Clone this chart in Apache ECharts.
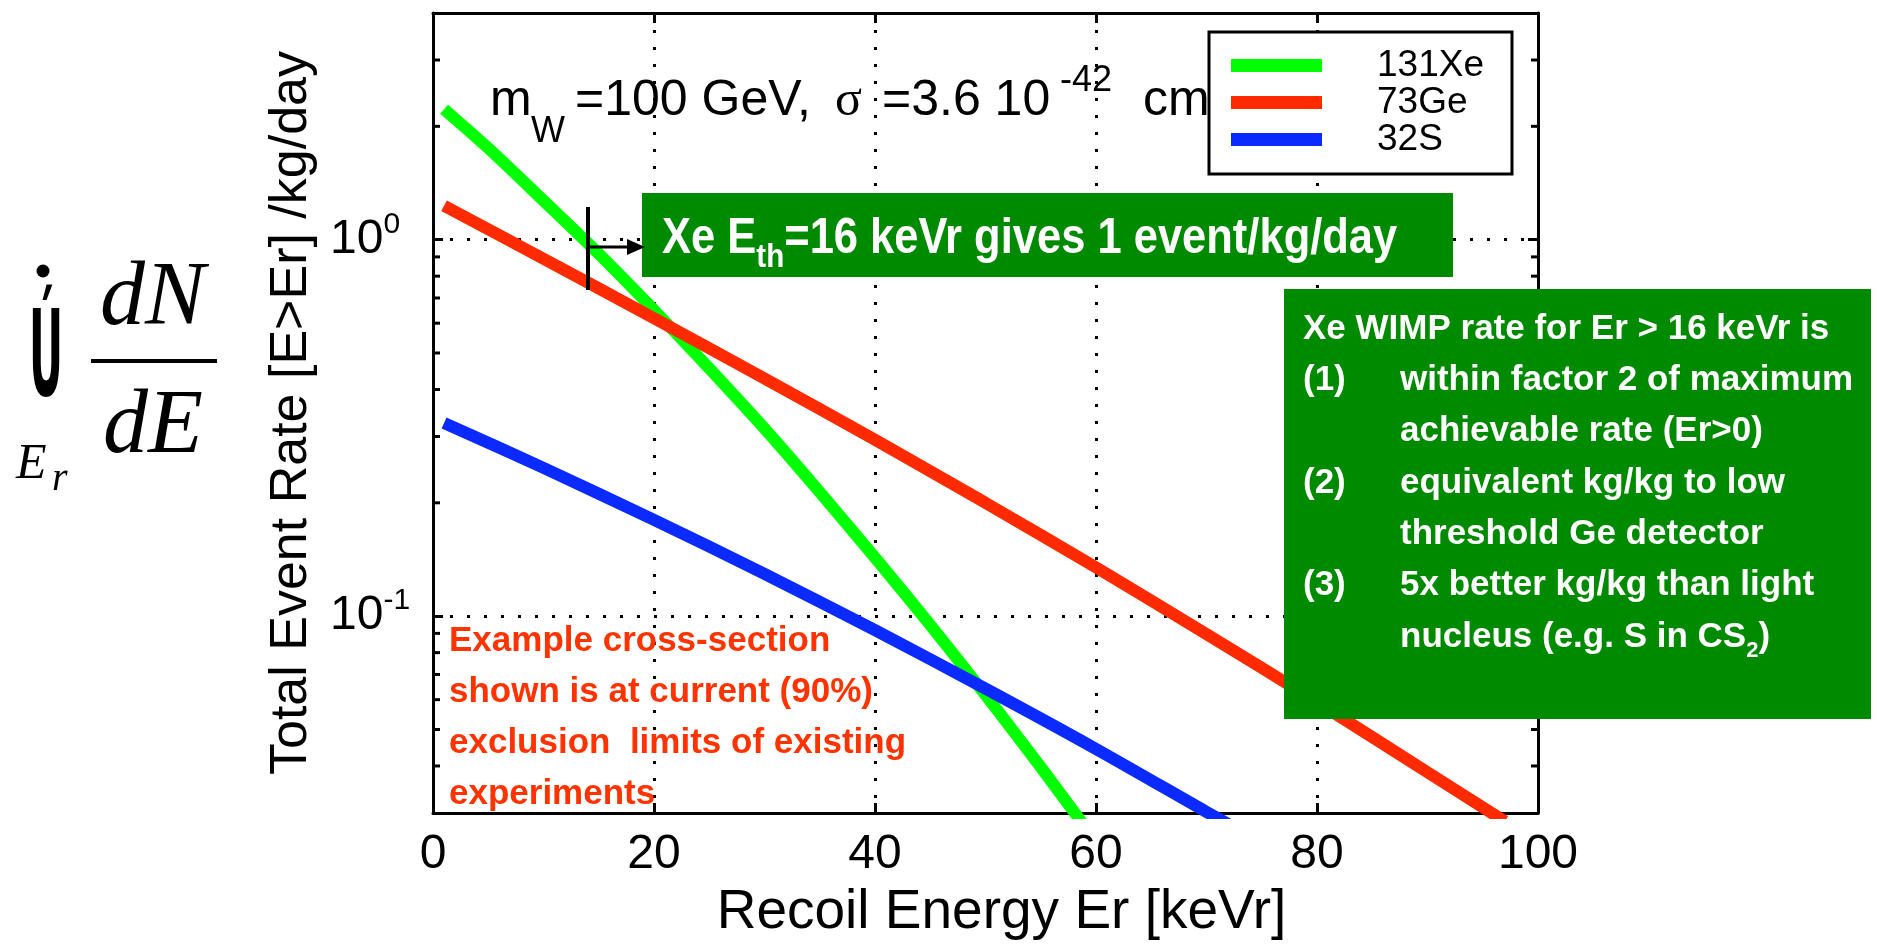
<!DOCTYPE html>
<html>
<head>
<meta charset="utf-8">
<script src="https://cdn.jsdelivr.net/npm/echarts@6/dist/echarts.min.js"></script>
<style>
html, body { margin: 0; padding: 0; background: #fff; }
#main { width: 1877px; height: 945px; }
</style>
</head>
<body>
<div id="main"></div>
<script>
var SANS = '"Liberation Sans", Arial, Helvetica, sans-serif';
var SERIF = '"Liberation Serif", "Times New Roman", serif';

// recoil energy (keVr) vs integrated rate above Er (/kg/day)
var energyXe = [1, 5, 10, 15, 20, 25, 30, 35, 40, 45, 50, 55, 60];
var rateXe = [2.22, 1.75, 1.27, 0.917, 0.65, 0.455, 0.315, 0.2135, 0.143, 0.0947, 0.0618, 0.0397, 0.0252];
var energyGe = [1, 10, 20, 30, 40, 50, 60, 70, 80, 90, 97];
var rateGe = [1.23, 0.89, 0.6185, 0.428, 0.294, 0.2, 0.1347, 0.0896, 0.0591, 0.0385, 0.0285];
var energyS = [1, 10, 20, 30, 40, 50, 60, 70, 72];
var rateS = [0.326, 0.2476, 0.1802, 0.1295, 0.0918, 0.0642, 0.0444, 0.0302, 0.028];

var seriesNames = ['131Xe', '73Ge', '32S'];
var seriesColors = ['#00ff00', '#ff2a00', '#0a2aff'];
var minorTicks = [0.04, 0.05, 0.06, 0.07, 0.08, 0.09, 0.2, 0.3, 0.4, 0.5, 0.6, 0.7, 0.8, 0.9, 2, 3];

var noteLines = ['Example cross-section', 'shown is at current (90%)', 'exclusion  limits of existing', 'experiments'];
var boxNums = ['', '(1)', '', '(2)', '', '(3)', ''];
var boxLines = [
  'within factor 2 of maximum',
  'achievable rate (Er>0)',
  'equivalent kg/kg to low',
  'threshold Ge detector',
  '5x better kg/kg than light',
  '{t|nucleus (e.g. S in CS}{s|2}{t|)}'
];

var chart = echarts.init(document.getElementById('main'));

function pairs(xs, ys) {
  return xs.map(function (x, i) { return [x, ys[i]]; });
}

// text placed by its left edge and baseline
function txt(text, x, baseline, size, o) {
  o = o || {};
  return {
    type: 'text', x: x, y: baseline, z: o.z || 10,
    scaleX: o.scaleX || 1, scaleY: o.scaleY || 1,
    style: {
      text: text, x: 0, y: -0.31 * size,
      fill: o.color || '#000',
      fontSize: size,
      fontFamily: o.family || SANS,
      fontWeight: o.weight || 'normal',
      fontStyle: o.italic ? 'italic' : 'normal',
      align: o.align || 'left', verticalAlign: 'middle',
      rich: o.rich
    }
  };
}

var graphics = [];

// left-hand formula
graphics.push(txt('Ú', 46, 401, 42, { weight: 'bold', align: 'center', scaleY: 2.85, family: '"DejaVu Sans", sans-serif' }));
graphics.push({ type: 'circle', shape: { cx: 43, cy: 271, r: 6.5 }, style: { fill: '#000' } });
graphics.push(txt('dN', 100, 328, 90, { family: SERIF, italic: true }));
graphics.push({ type: 'rect', shape: { x: 91, y: 359, width: 126, height: 4 }, style: { fill: '#000' } });
graphics.push(txt('dE', 103, 456, 90, { family: SERIF, italic: true }));
graphics.push(txt('E', 16, 480, 50, { family: SERIF, italic: true }));
graphics.push(txt('r', 52, 492, 40, { family: SERIF, italic: true }));

// parameter line (partly under the legend)
graphics.push(txt('m', 490, 117, 50, { z: 3 }));
graphics.push(txt('W', 531, 143, 36, { z: 3 }));
graphics.push(txt('=100 GeV,', 575, 117, 50, { z: 3 }));
graphics.push(txt('σ', 835, 117, 50, { z: 3, family: SERIF }));
graphics.push(txt('=3.6 10', 882, 117, 50, { z: 3 }));
graphics.push(txt('-42', 1060, 92, 36, { z: 3 }));
graphics.push(txt('cm', 1143, 117, 50, { z: 3 }));

// threshold marker and arrow
graphics.push({ type: 'line', z: 10, shape: { x1: 588, y1: 207, x2: 588, y2: 290 }, style: { stroke: '#000', lineWidth: 4 } });
graphics.push({ type: 'line', z: 10, shape: { x1: 588, y1: 247, x2: 630, y2: 247 }, style: { stroke: '#000', lineWidth: 3 } });
graphics.push({ type: 'polygon', z: 10, shape: { points: [[627, 239], [645, 247], [627, 255]] }, style: { fill: '#000' } });

// green banner
graphics.push({ type: 'rect', z: 9, shape: { x: 642, y: 193, width: 811, height: 84 }, style: { fill: '#008a00' } });
graphics.push(txt('{a|Xe E}{s|th}{a|=16 keVr gives 1 event/kg/day}', 662, 255, 50, {
  weight: 'bold', color: '#fff', scaleX: 0.87,
  rich: {
    a: { fontSize: 50, lineHeight: 70, fontWeight: 'bold', fontFamily: SANS, color: '#fff' },
    s: { fontSize: 34, lineHeight: 34, fontWeight: 'bold', fontFamily: SANS, color: '#fff', verticalAlign: 'bottom' }
  }
}));

// green text box
graphics.push({ type: 'rect', z: 9, shape: { x: 1284, y: 289, width: 587, height: 430 }, style: { fill: '#008a00' } });
graphics.push(txt('Xe WIMP rate for Er > 16 keVr is', 1303, 340, 35, { weight: 'bold', color: '#fff' }));
boxLines.forEach(function (line, i) {
  var bl = 391.3 + i * 51.3;
  if (boxNums[i + 1]) {
    graphics.push(txt(boxNums[i + 1], 1303, bl, 35, { weight: 'bold', color: '#fff' }));
  }
  graphics.push(txt(line, 1400, bl, 35, {
    weight: 'bold', color: '#fff',
    rich: {
      t: { fontSize: 35, lineHeight: 50, fontWeight: 'bold', fontFamily: SANS, color: '#fff' },
      s: { fontSize: 22, lineHeight: 22, fontWeight: 'bold', fontFamily: SANS, color: '#fff', verticalAlign: 'bottom' }
    }
  }));
});

// red note
noteLines.forEach(function (line, i) {
  graphics.push(txt(line, 449, 652 + i * 51, 35, { weight: 'bold', color: '#ff3300' }));
});

var axisLine = { show: true, onZero: false, lineStyle: { color: '#000', width: 3 } };
var tick = { show: true, inside: true, length: 10, lineStyle: { color: '#000', width: 3 } };
var dotted = { show: true, lineStyle: { color: '#000', width: 3, type: [3, 14] } };

chart.setOption({
  animation: false,
  backgroundColor: '#fff',
  grid: { left: 433, top: 13, width: 1105, height: 805, containLabel: false },
  legend: {
    orient: 'vertical', left: 1209, top: 32, z: 5,
    padding: [15, 28, 16, 22], itemGap: 0, itemWidth: 91, itemHeight: 13,
    backgroundColor: '#fff', borderColor: '#000', borderWidth: 3, borderRadius: 0,
    selectedMode: false,
    textStyle: { fontSize: 37, lineHeight: 34, color: '#000', fontFamily: SANS, padding: [0, 0, 0, 50] },
    data: seriesNames.map(function (n) { return { name: n, icon: 'rect' }; })
  },
  xAxis: [{
    type: 'value', position: 'bottom', min: 0, max: 100, interval: 20,
    axisLine: axisLine, axisTick: tick,
    axisLabel: { fontSize: 48, color: '#000', fontFamily: SANS, margin: 18 },
    splitLine: dotted,
    name: 'Recoil Energy Er [keVr]', nameLocation: 'middle', nameGap: 72,
    nameTextStyle: { fontSize: 55, color: '#000', fontFamily: SANS, padding: [0, 0, 0, 32] }
  }, {
    type: 'value', position: 'top', min: 0, max: 100, interval: 20,
    axisLine: axisLine, axisTick: tick, axisLabel: { show: false }, splitLine: { show: false }
  }],
  yAxis: [{
    type: 'log', logBase: 10, position: 'left', min: 0.03, max: 4,
    axisLine: axisLine, axisTick: tick,
    axisLabel: {
      align: 'left', margin: 103, color: '#000',
      formatter: function (v) {
        var lg = Math.log10(v);
        var e = Math.round(lg);
        if (Math.abs(lg - e) > 1e-6) return '';
        return '{b|10}{s|' + e + '}';
      },
      rich: {
        b: { fontSize: 48, lineHeight: 60, fontFamily: SANS, color: '#000' },
        s: { fontSize: 30, lineHeight: 26, fontFamily: SANS, color: '#000', verticalAlign: 'top' }
      }
    },
    splitLine: dotted,
    name: 'Total Event Rate [E>Er] /kg/day', nameLocation: 'middle', nameGap: 115,
    nameTextStyle: { fontSize: 52, color: '#000', fontFamily: SANS }
  }, {
    type: 'log', logBase: 10, position: 'right', min: 0.03, max: 4,
    axisLine: axisLine, axisTick: tick, axisLabel: { show: false }, splitLine: { show: false }
  }],
  graphic: graphics,
  series: [
    [energyXe, rateXe], [energyGe, rateGe], [energyS, rateS]
  ].map(function (d, i) {
    return {
      name: seriesNames[i], type: 'line', data: pairs(d[0], d[1]),
      showSymbol: false, smooth: 0.3, clip: true, silent: true, z: 2,
      itemStyle: { color: seriesColors[i] },
      lineStyle: { color: seriesColors[i], width: 12, cap: 'butt' }
    };
  }).concat([{
    // minor log ticks on the left and right frame
    type: 'custom', silent: true, z: 3,
    data: minorTicks.map(function (v) { return [0, v]; }),
    renderItem: function (params, api) {
      var v = api.value(1);
      var l = api.coord([0, v]);
      var r = api.coord([100, v]);
      return {
        type: 'group',
        children: [
          { type: 'line', shape: { x1: l[0], y1: l[1], x2: l[0] + 7, y2: l[1] }, style: { stroke: '#000', lineWidth: 3 } },
          { type: 'line', shape: { x1: r[0] - 7, y1: r[1], x2: r[0], y2: r[1] }, style: { stroke: '#000', lineWidth: 3 } }
        ]
      };
    }
  }])
});
</script>
</body>
</html>
